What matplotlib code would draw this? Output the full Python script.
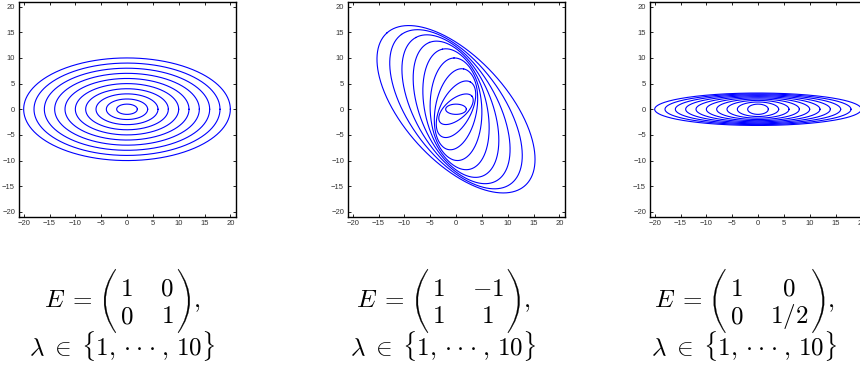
import numpy as np
import matplotlib
matplotlib.use("Agg")
import matplotlib.pyplot as plt
from matplotlib.path import Path
from matplotlib.patches import PathPatch

plt.rcParams["mathtext.fontset"] = "cm"
plt.rcParams["font.family"] = ["Liberation Sans", "DejaVu Sans"]

# ---- data -------------------------------------------------------------
lambdas = [1, 2, 3, 4, 5, 6, 7, 8, 9, 10]
E_identity = [[1, 0], [0, 1]]
E_rotation = [[1, -1], [1, 1]]
E_aniso = [[1, 0], [0, 0.5]]
exponent_matrices = [E_identity, E_rotation, E_aniso]
base_semi_axes = [2, 1]          # unit ellipse before applying lambda^E
axis_ticks = [-20, -15, -10, -5, 0, 5, 10, 15, 20]
axis_limits = [-21, 21]
matrix_labels = [
    [["1", "0"], ["0", "1"]],
    [["1", "-1"], ["1", "1"]],
    [["1", "0"], ["0", "1/2"]],
]
lhs_label = r"$E\;=$"
lambda_caption = (r"$\lambda\;\in\;\{1,\,{\cdot}\hspace{0.25}{\cdot}\hspace{0.25}{\cdot}"
                  r"\;,\,10\}$")

# ---- layout -----------------------------------------------------------
W, H = 860, 370
fig = plt.figure(figsize=(W / 100, H / 100), dpi=100)
ax_left_px = [18.5, 347.5, 649.5]
ax_w_px, ax_top_px, ax_bot_px = 217, 1.5, 217
caption_cx = [122, 443, 744]
FS = 18
row_base = [296, 323]
paren_top, paren_bot = 269, 333
lhs_base = 307
lambda_base = 355


def lam_power(lam, E):
    w, V = np.linalg.eig(np.array(E, dtype=float))
    D = np.diag(np.exp(np.log(lam) * w))
    return (V @ D @ np.linalg.inv(V)).real


theta = np.linspace(0, 2 * np.pi, 600)
base = np.vstack([base_semi_axes[0] * np.cos(theta), base_semi_axes[1] * np.sin(theta)])

for i, E in enumerate(exponent_matrices):
    ax = fig.add_axes([ax_left_px[i] / W, 1 - ax_bot_px / H,
                       ax_w_px / W, (ax_bot_px - ax_top_px) / H])
    for lam in lambdas:
        pts = lam_power(lam, E) @ base
        ax.plot(pts[0], pts[1], color="#0000ff", lw=0.8)
    ax.set_xlim(axis_limits)
    ax.set_ylim(axis_limits)
    ax.set_xticks(axis_ticks)
    ax.set_yticks(axis_ticks)
    ax.tick_params(direction="in", top=True, right=True, length=2.2, width=0.6,
                   labelsize=5.5, pad=2.5, labelcolor="#333333")
    for s in ax.spines.values():
        s.set_linewidth(1.0)

# ---- captions (matrix typeset by hand) -----------------------------------
renderer = fig.canvas.get_renderer()


def px(x, y):
    return x / W, 1 - y / H


def put(x, y, s, ha="left"):
    fx, fy = px(x, y)
    return fig.text(fx, fy, s, fontsize=FS, ha=ha, va="baseline")


def width_of(s):
    t = fig.text(0, 0, s, fontsize=FS)
    w = t.get_window_extent(renderer).width
    t.remove()
    return w


def paren(xb, side, depth=11.5, thick=1.5):
    mid = (paren_top + paren_bot) / 2
    xe = xb + side * depth
    c_out = 2 * xb - xe
    c_in = 2 * (xb + side * thick) - xe
    verts = [(xe, paren_top), (c_out, mid), (xe, paren_bot),
             (xe + side * 0.5, paren_bot - 0.5), (c_in, mid),
             (xe + side * 0.5, paren_top + 0.5), (xe, paren_top)]
    codes = [Path.MOVETO, Path.CURVE3, Path.CURVE3, Path.LINETO,
             Path.CURVE3, Path.CURVE3, Path.CLOSEPOLY]
    verts = [px(x, y) for x, y in verts]
    fig.add_artist(PathPatch(Path(verts, codes), transform=fig.transFigure,
                             facecolor="black", edgecolor="black", lw=0.15))


gap_eq, paren_w, pad, colsep = 11, 12, 4, 27
for i in range(3):
    M = matrix_labels[i]
    cells = [[f"${c}$" for c in row] for row in M]
    col_w = [max(width_of(cells[r][c]) for r in range(2)) for c in range(2)]
    w_lhs = width_of(lhs_label)
    w_comma = width_of(r"$,$")
    total = (w_lhs + gap_eq + paren_w + pad + col_w[0] + colsep + col_w[1]
             + pad + paren_w + 3 + w_comma)
    x = caption_cx[i] - total / 2
    put(x, lhs_base, lhs_label)
    x += w_lhs + gap_eq
    paren(x, +1)
    x += paren_w + pad
    c0 = x + col_w[0] / 2
    x += col_w[0] + colsep
    c1 = x + col_w[1] / 2
    x += col_w[1] + pad + paren_w
    paren(x, -1)
    put(x + 3, lhs_base, r"$,$")
    for r in range(2):
        put(c0, row_base[r], cells[r][0], ha="center")
        put(c1, row_base[r], cells[r][1], ha="center")
    put(caption_cx[i], lambda_base, lambda_caption, ha="center")

fig.savefig("out.png", dpi=100)
